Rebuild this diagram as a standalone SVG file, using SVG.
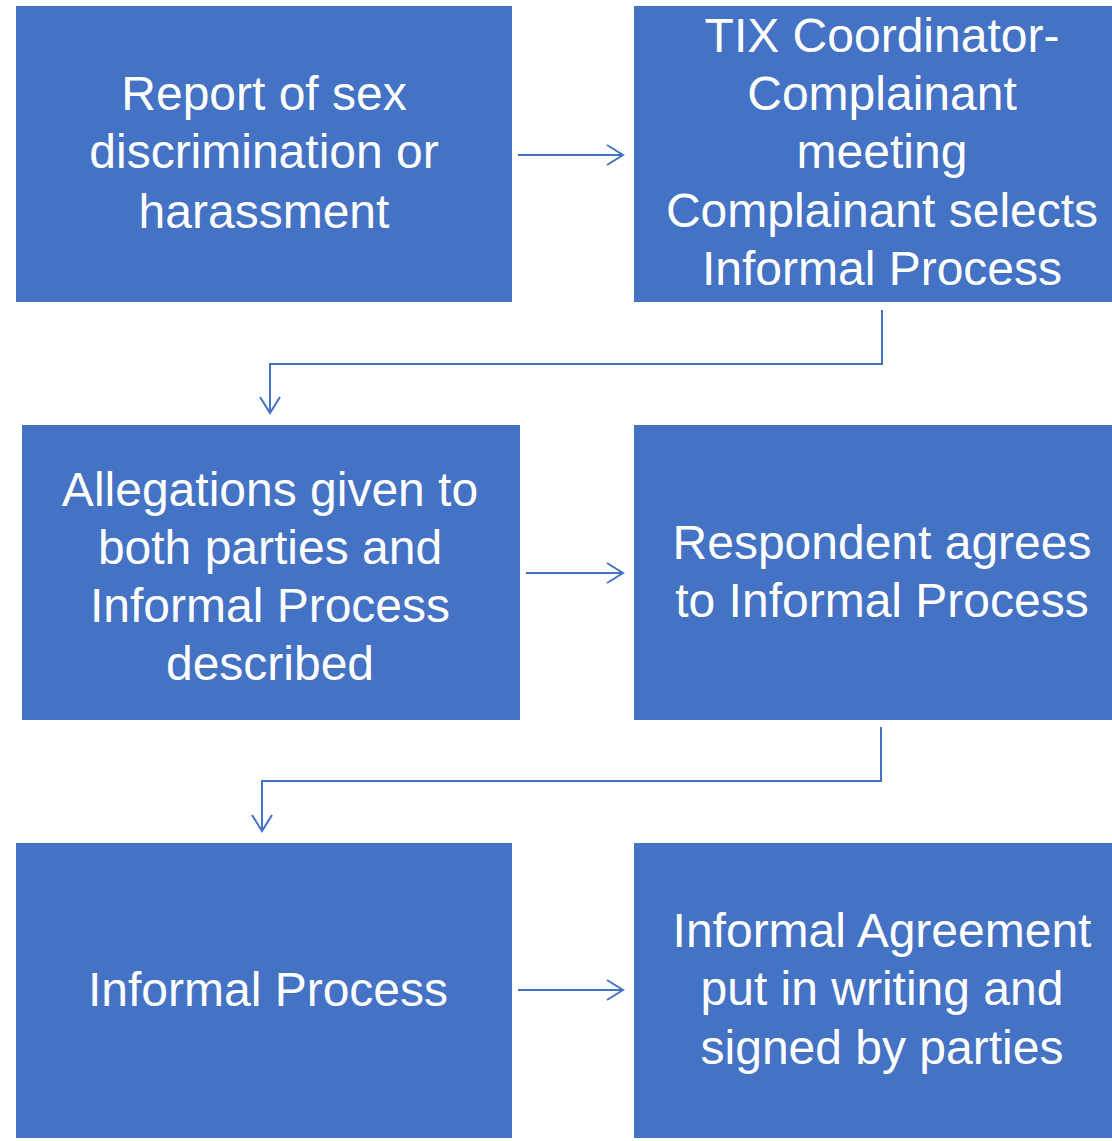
<svg xmlns="http://www.w3.org/2000/svg" width="1112" height="1141" viewBox="0 0 1112 1141">
<style>
.box{fill:#4472C4;}
.t{font-family:"Liberation Sans",Arial,sans-serif;font-size:48px;fill:#FFFFFF;text-anchor:middle;}
.c{fill:none;stroke:#4472C4;stroke-width:2;}
</style>
<defs>
<marker id="ah" markerWidth="20" markerHeight="24" refX="18" refY="12" orient="auto" markerUnits="userSpaceOnUse">
<path d="M2,2 L18,12 L2,22" fill="none" stroke="#4472C4" stroke-width="2"/>
</marker>
</defs>
<rect width="1112" height="1141" fill="#FFFFFF"/>
<g id="n1"><rect class="box" x="16" y="6" width="496" height="296"/>
<text class="t"><tspan x="264" y="110">Report of sex</tspan><tspan x="264" y="168">discrimination or</tspan><tspan x="264" y="228">harassment</tspan></text></g>
<g id="n2"><rect class="box" x="634" y="6" width="478" height="296"/>
<text class="t"><tspan x="882" y="52">TIX Coordinator-</tspan><tspan x="882" y="110">Complainant</tspan><tspan x="882" y="168">meeting</tspan><tspan x="882" y="227">Complainant selects</tspan><tspan x="882" y="285">Informal Process</tspan></text></g>
<g id="n3"><rect class="box" x="22" y="425" width="498" height="295"/>
<text class="t"><tspan x="270" y="506">Allegations given to</tspan><tspan x="270" y="564">both parties and</tspan><tspan x="270" y="622">Informal Process</tspan><tspan x="270" y="680">described</tspan></text></g>
<g id="n4"><rect class="box" x="634" y="425" width="478" height="295"/>
<text class="t"><tspan x="882" y="559">Respondent agrees</tspan><tspan x="882" y="617">to Informal Process</tspan></text></g>
<g id="n5"><rect class="box" x="16" y="843" width="496" height="295"/>
<text class="t"><tspan x="268" y="1006">Informal Process</tspan></text></g>
<g id="n6"><rect class="box" x="634" y="843" width="478" height="295"/>
<text class="t"><tspan x="882" y="947">Informal Agreement</tspan><tspan x="882" y="1005">put in writing and</tspan><tspan x="882" y="1064">signed by parties</tspan></text></g>
<g id="connectors">
<path class="c" d="M518,155 L623,155" marker-end="url(#ah)"/>
<path class="c" d="M882,310 L882,364 L270,364 L270,413" marker-end="url(#ah)"/>
<path class="c" d="M526,573 L623,573" marker-end="url(#ah)"/>
<path class="c" d="M881,727 L881,781 L262,781 L262,831" marker-end="url(#ah)"/>
<path class="c" d="M518,990 L623,990" marker-end="url(#ah)"/>
</g>
</svg>
